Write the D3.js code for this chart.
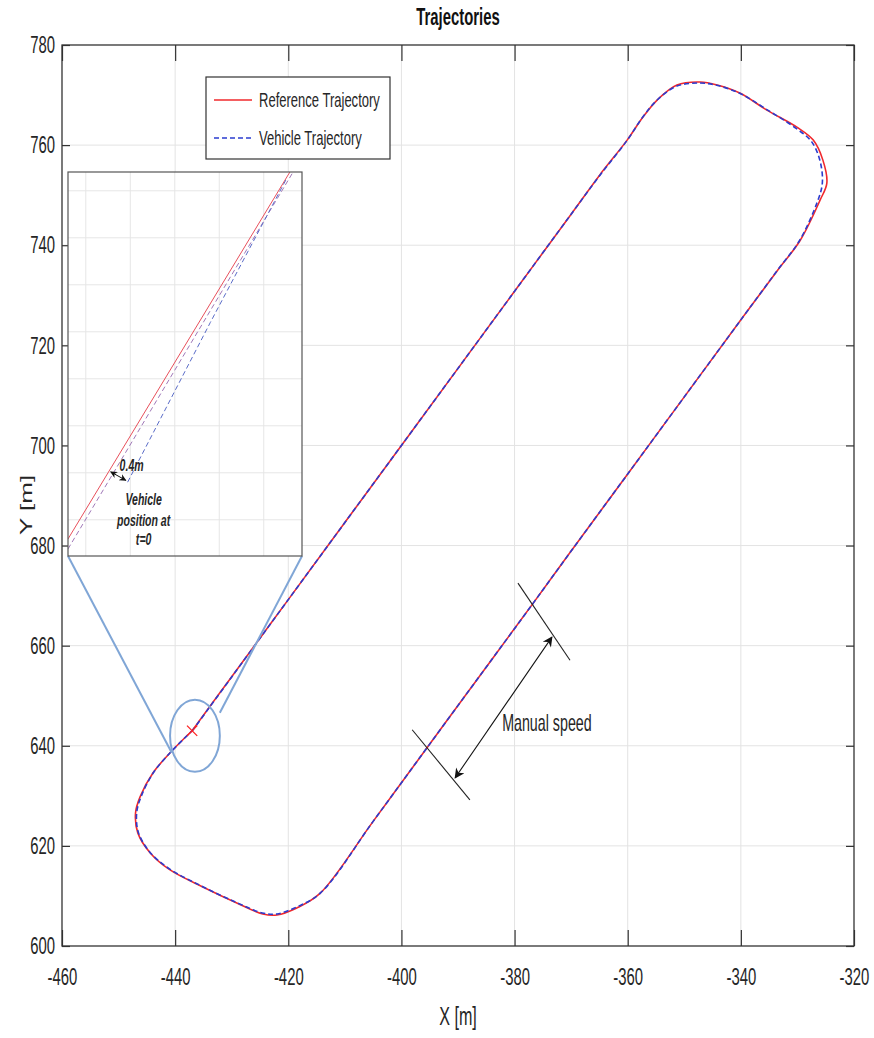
<!DOCTYPE html>
<html><head><meta charset="utf-8">
<script src="https://cdn.jsdelivr.net/npm/d3@7"></script>
<style>body{margin:0;background:#fff}svg{display:block}</style>
</head><body>
<svg id="chart" width="874" height="1038"></svg>
<script>
// ---------- data ----------
const xTicks = [-460, -440, -420, -400, -380, -360, -340, -320];
const yTicks = [600, 620, 640, 660, 680, 700, 720, 740, 760, 780];

const refX = [-437.0, -430.0, -420.0, -410.0, -400.0, -390.0, -380.0, -370.0, -364.9, -360.1, -357.3, -354.8, -351.3, -347.2, -344.2, -340.2, -335.4, -330.1, -327.2, -325.5, -324.8, -326.0, -329.5, -333.5, -339.6, -350.0, -360.0, -370.0, -376.7, -386.0, -395.8, -405.0, -414.4, -418.5, -422.0, -424.5, -429.1, -435.1, -440.9, -444.4, -446.6, -447.0, -446.2, -443.9, -440.9, -437.0];
const refY = [643.0, 653.8, 669.2, 684.6, 700.0, 715.4, 730.8, 746.2, 754.1, 761.0, 765.6, 769.0, 772.0, 772.6, 772.0, 770.4, 767.0, 763.6, 761.0, 757.0, 752.4, 749.0, 741.0, 735.0, 725.7, 709.7, 694.3, 678.9, 668.5, 654.2, 639.1, 624.9, 610.5, 607.6, 606.2, 606.4, 608.6, 611.8, 615.2, 618.6, 622.6, 626.6, 629.8, 634.6, 638.6, 643.0];

const vehX = [-437.03, -430.1, -420.0, -410.0, -400.0, -390.0, -380.0, -370.0, -364.9, -360.2, -357.4, -354.9, -351.3, -347.2, -344.1, -340.1, -335.4, -330.3, -327.5, -326.0, -325.6, -326.5, -329.7, -333.6, -339.6, -350.0, -360.0, -370.0, -376.7, -386.0, -395.8, -405.0, -414.3, -418.5, -422.0, -424.6, -429.2, -435.2, -441.0, -444.5, -446.5, -446.8, -446.0, -443.8, -440.8, -437.1];
const vehY = [642.90, 653.6, 669.2, 684.6, 700.0, 715.4, 730.8, 746.2, 754.0, 760.8, 765.5, 768.9, 771.8, 772.4, 771.9, 770.3, 767.1, 763.4, 760.7, 756.8, 752.4, 748.6, 740.8, 734.9, 725.7, 709.7, 694.3, 678.9, 668.5, 654.2, 639.1, 624.9, 610.6, 607.8, 606.4, 606.6, 608.7, 611.9, 615.4, 618.8, 622.7, 626.6, 629.9, 634.7, 638.7, 642.9];

const startPoint = [-437.0, 643.0];

// zoomed inset (metres)
const insetXDomain = [-437.70, -435.07];
const insetYDomain = [642.115, 646.2];
const insetXGrid = [-437.5, -437.0, -436.5, -436.0, -435.5];
const insetYGrid = [646.0, 645.5, 645.0, 644.5, 644.0, 643.5, 643.0, 642.5];
const insetRefX = [-437.70, -435.206];
const insetRefY = [642.296, 646.2];
const insetVehX = [-437.03, -436.10, -435.24];
const insetVehY = [642.90, 644.60, 646.136];
const insetLapX = [-437.70, -435.17];
const insetLapY = [642.19, 646.2];
const gapFrom = [-437.22, 643.01];
const gapTo = [-437.05, 642.92];

// zoom ellipse + manual speed annotation (metres)
const ellipseC = [-436.5, 642.0];
const ellipseR = [4.4, 7.2];
const connL = [-440.6, 638.6];
const connR = [-432.1, 646.6];
const speedTickA = [[-379.4, 672.5], [-370.2, 657.1]];
const speedTickB = [[-398.1, 643.2], [-387.9, 629.2]];
const speedArrow = [[-373.4, 661.7], [-390.5, 633.6]];

// ---------- layout ----------
const L = 62, R = 854, T = 45, B = 946;
const SX = 0.62;
const FONT = "'Liberation Sans', Arial, Helvetica, sans-serif";

const svg = d3.select('#chart');
const x = d3.scaleLinear().domain([-460, -320]).range([L, R]);
const y = d3.scaleLinear().domain([600, 780]).range([B, T]);

function label(parent, px, py, str, o = {}) {
  const g = parent.append('g')
    .attr('transform', `translate(${px},${py}) scale(${SX},1)` + (o.rotate ? ' rotate(-90)' : ''));
  return g.append('text')
    .attr('text-anchor', o.anchor || 'middle')
    .attr('dy', o.dy || '0.35em')
    .style('font-family', FONT)
    .style('font-size', (o.size || 24) + 'px')
    .style('font-weight', o.bold ? 'bold' : 'normal')
    .style('font-style', o.italic ? 'italic' : 'normal')
    .attr('fill', o.color || '#262626')
    .text(str);
}

const defs = svg.append('defs');
defs.append('clipPath').attr('id', 'plotClip').append('rect')
  .attr('x', L).attr('y', T).attr('width', R - L).attr('height', B - T);
defs.append('marker').attr('id', 'ah').attr('viewBox', '0 0 10 10')
  .attr('refX', 9).attr('refY', 5).attr('markerWidth', 14).attr('markerHeight', 10)
  .attr('markerUnits', 'userSpaceOnUse').attr('orient', 'auto-start-reverse')
  .append('path').attr('d', 'M0,0 L10,5 L0,10 L3,5 Z').attr('fill', '#111');
defs.append('marker').attr('id', 'ahs').attr('viewBox', '0 0 10 10')
  .attr('refX', 9).attr('refY', 5).attr('markerWidth', 8).attr('markerHeight', 7)
  .attr('markerUnits', 'userSpaceOnUse').attr('orient', 'auto-start-reverse')
  .append('path').attr('d', 'M0,0 L10,5 L0,10 L3,5 Z').attr('fill', '#111');

// grid
const grid = svg.append('g');
grid.selectAll('.gx').data(xTicks.slice(1, -1)).join('line')
  .attr('x1', d => x(d)).attr('x2', d => x(d)).attr('y1', T).attr('y2', B)
  .attr('stroke', '#e3e3e3').attr('stroke-width', 1);
grid.selectAll('.gy').data(yTicks.slice(1, -1)).join('line')
  .attr('y1', d => y(d)).attr('y2', d => y(d)).attr('x1', L).attr('x2', R)
  .attr('stroke', '#e3e3e3').attr('stroke-width', 1);

// trajectories
const line = d3.line().x(d => x(d[0])).y(d => y(d[1])).curve(d3.curveCatmullRom.alpha(0.5));
const plot = svg.append('g').attr('clip-path', 'url(#plotClip)');
plot.append('path').datum(refX.map((v, i) => [v, refY[i]]))
  .attr('d', line).attr('fill', 'none').attr('stroke', '#f0282d').attr('stroke-width', 1.6);
plot.append('path').datum(vehX.map((v, i) => [v, vehY[i]]))
  .attr('d', line).attr('fill', 'none').attr('stroke', '#2b3ccf').attr('stroke-width', 1.6)
  .attr('stroke-dasharray', '5,3');

// start marker
plot.append('path').attr('d', d3.symbol(d3.symbolTimes, 70)())
  .attr('transform', `translate(${x(startPoint[0])},${y(startPoint[1])})`)
  .attr('fill', 'none').attr('stroke', '#ff2020').attr('stroke-width', 1.3);

// zoom ellipse
const zc = '#80a6d6';
plot.append('ellipse').attr('cx', x(ellipseC[0])).attr('cy', y(ellipseC[1]))
  .attr('rx', x(ellipseC[0] + ellipseR[0]) - x(ellipseC[0]))
  .attr('ry', y(ellipseC[1]) - y(ellipseC[1] + ellipseR[1]))
  .attr('fill', 'none').attr('stroke', zc).attr('stroke-width', 2);

// manual speed annotation
const seg = d3.line().x(d => x(d[0])).y(d => y(d[1]));
plot.append('path').attr('d', seg(speedTickA)).attr('stroke', '#222').attr('stroke-width', 1.1).attr('fill', 'none');
plot.append('path').attr('d', seg(speedTickB)).attr('stroke', '#222').attr('stroke-width', 1.1).attr('fill', 'none');
plot.append('path').attr('d', seg(speedArrow)).attr('stroke', '#111').attr('stroke-width', 1.1).attr('fill', 'none')
  .attr('marker-start', 'url(#ah)').attr('marker-end', 'url(#ah)');
label(svg, x(-382.2), y(644.6), 'Manual speed', { anchor: 'start', size: 23 });

// axes (ticks inward)
const fmt = d => String(d);
const axB = d3.axisBottom(x).tickValues(xTicks).tickFormat(fmt).tickSize(-16).tickSizeOuter(0).tickPadding(22);
const axL = d3.axisLeft(y).tickValues(yTicks).tickFormat(fmt).tickSize(-8).tickSizeOuter(0).tickPadding(7 / SX);
const axT = d3.axisTop(x).tickValues(xTicks).tickSize(-16).tickSizeOuter(0).tickFormat('');
const axR = d3.axisRight(y).tickValues(yTicks).tickSize(-8).tickSizeOuter(0).tickFormat('');
function styleAxis(g) {
  g.select('.domain').remove();
  g.selectAll('.tick line').attr('stroke', '#333').attr('stroke-width', 1.2);
  g.selectAll('.tick text').style('font-family', FONT).style('font-size', '24px')
    .attr('fill', '#262626').attr('transform', `scale(${SX},1)`);
}
svg.append('g').attr('transform', `translate(0,${B})`).call(axB).call(styleAxis);
svg.append('g').attr('transform', `translate(${L},0)`).call(axL).call(styleAxis);
svg.append('g').attr('transform', `translate(0,${T})`).call(axT).call(styleAxis);
svg.append('g').attr('transform', `translate(${R},0)`).call(axR).call(styleAxis);
svg.append('rect').attr('x', L).attr('y', T).attr('width', R - L).attr('height', B - T)
  .attr('fill', 'none').attr('stroke', '#333').attr('stroke-width', 1.3);

// inset
const iL = 68, iR = 302, iT = 172, iB = 556;
const ix = d3.scaleLinear().domain(insetXDomain).range([iL, iR]);
const iy = d3.scaleLinear().domain(insetYDomain).range([iB, iT]);
svg.append('line').attr('x1', iL).attr('y1', iB).attr('x2', x(connL[0])).attr('y2', y(connL[1]))
  .attr('stroke', zc).attr('stroke-width', 2);
svg.append('line').attr('x1', iR).attr('y1', iB).attr('x2', x(connR[0])).attr('y2', y(connR[1]))
  .attr('stroke', zc).attr('stroke-width', 2);
defs.append('clipPath').attr('id', 'insetClip').append('rect')
  .attr('x', iL).attr('y', iT).attr('width', iR - iL).attr('height', iB - iT);
const inset = svg.append('g');
inset.append('rect').attr('x', iL).attr('y', iT).attr('width', iR - iL).attr('height', iB - iT)
  .attr('fill', '#fff');
inset.selectAll('.igx').data(insetXGrid).join('line')
  .attr('x1', d => ix(d)).attr('x2', d => ix(d)).attr('y1', iT).attr('y2', iB)
  .attr('stroke', '#e6e6e6');
inset.selectAll('.igy').data(insetYGrid).join('line')
  .attr('y1', d => iy(d)).attr('y2', d => iy(d)).attr('x1', iL).attr('x2', iR)
  .attr('stroke', '#e6e6e6');
const iline = d3.line().x(d => ix(d[0])).y(d => iy(d[1]));
const ic = inset.append('g').attr('clip-path', 'url(#insetClip)');
ic.append('path').attr('d', iline(insetRefX.map((v, i) => [v, insetRefY[i]])))
  .attr('fill', 'none').attr('stroke', '#e8505c').attr('stroke-width', 1);
ic.append('path').attr('d', iline(insetLapX.map((v, i) => [v, insetLapY[i]])))
  .attr('fill', 'none').attr('stroke', '#a078b8').attr('stroke-width', 1).attr('stroke-dasharray', '5,3');
ic.append('path').attr('d', iline(insetVehX.map((v, i) => [v, insetVehY[i]])))
  .attr('fill', 'none').attr('stroke', '#5a6cc8').attr('stroke-width', 1).attr('stroke-dasharray', '5,3');
ic.append('path').attr('d', iline([gapFrom, gapTo])).attr('stroke', '#111').attr('stroke-width', 1)
  .attr('marker-start', 'url(#ahs)').attr('marker-end', 'url(#ahs)');
inset.append('rect').attr('x', iL).attr('y', iT).attr('width', iR - iL).attr('height', iB - iT)
  .attr('fill', 'none').attr('stroke', '#555').attr('stroke-width', 1.2);
label(inset, ix(-437.12), iy(643.08), '0.4m', { anchor: 'start', size: 17, bold: true, italic: true });
label(inset, ix(-436.85), iy(642.72), 'Vehicle', { size: 17, bold: true, italic: true });
label(inset, ix(-436.85), iy(642.50), 'position at', { size: 17, bold: true, italic: true });
label(inset, ix(-436.85), iy(642.30), 't=0', { size: 17, bold: true, italic: true });

// legend
const lg = svg.append('g');
lg.append('rect').attr('x', 206).attr('y', 77).attr('width', 184).attr('height', 82)
  .attr('fill', '#fff').attr('stroke', '#333').attr('stroke-width', 1.2);
lg.append('line').attr('x1', 214).attr('x2', 252).attr('y1', 100).attr('y2', 100)
  .attr('stroke', '#f0282d').attr('stroke-width', 1.4);
lg.append('line').attr('x1', 214).attr('x2', 252).attr('y1', 138).attr('y2', 138)
  .attr('stroke', '#2b3ccf').attr('stroke-width', 1.4).attr('stroke-dasharray', '5,3');
label(lg, 259, 100, 'Reference Trajectory', { anchor: 'start', size: 21 });
label(lg, 259, 138, 'Vehicle Trajectory', { anchor: 'start', size: 21 });

// titles
label(svg, (L + R) / 2, 17, 'Trajectories', { size: 24, bold: true, color: '#111' });
label(svg, (L + R) / 2, 1016, 'X [m]', { size: 26 });
label(svg, 26, 505, 'Y [m]', { size: 26, rotate: true });
</script>
</body></html>
